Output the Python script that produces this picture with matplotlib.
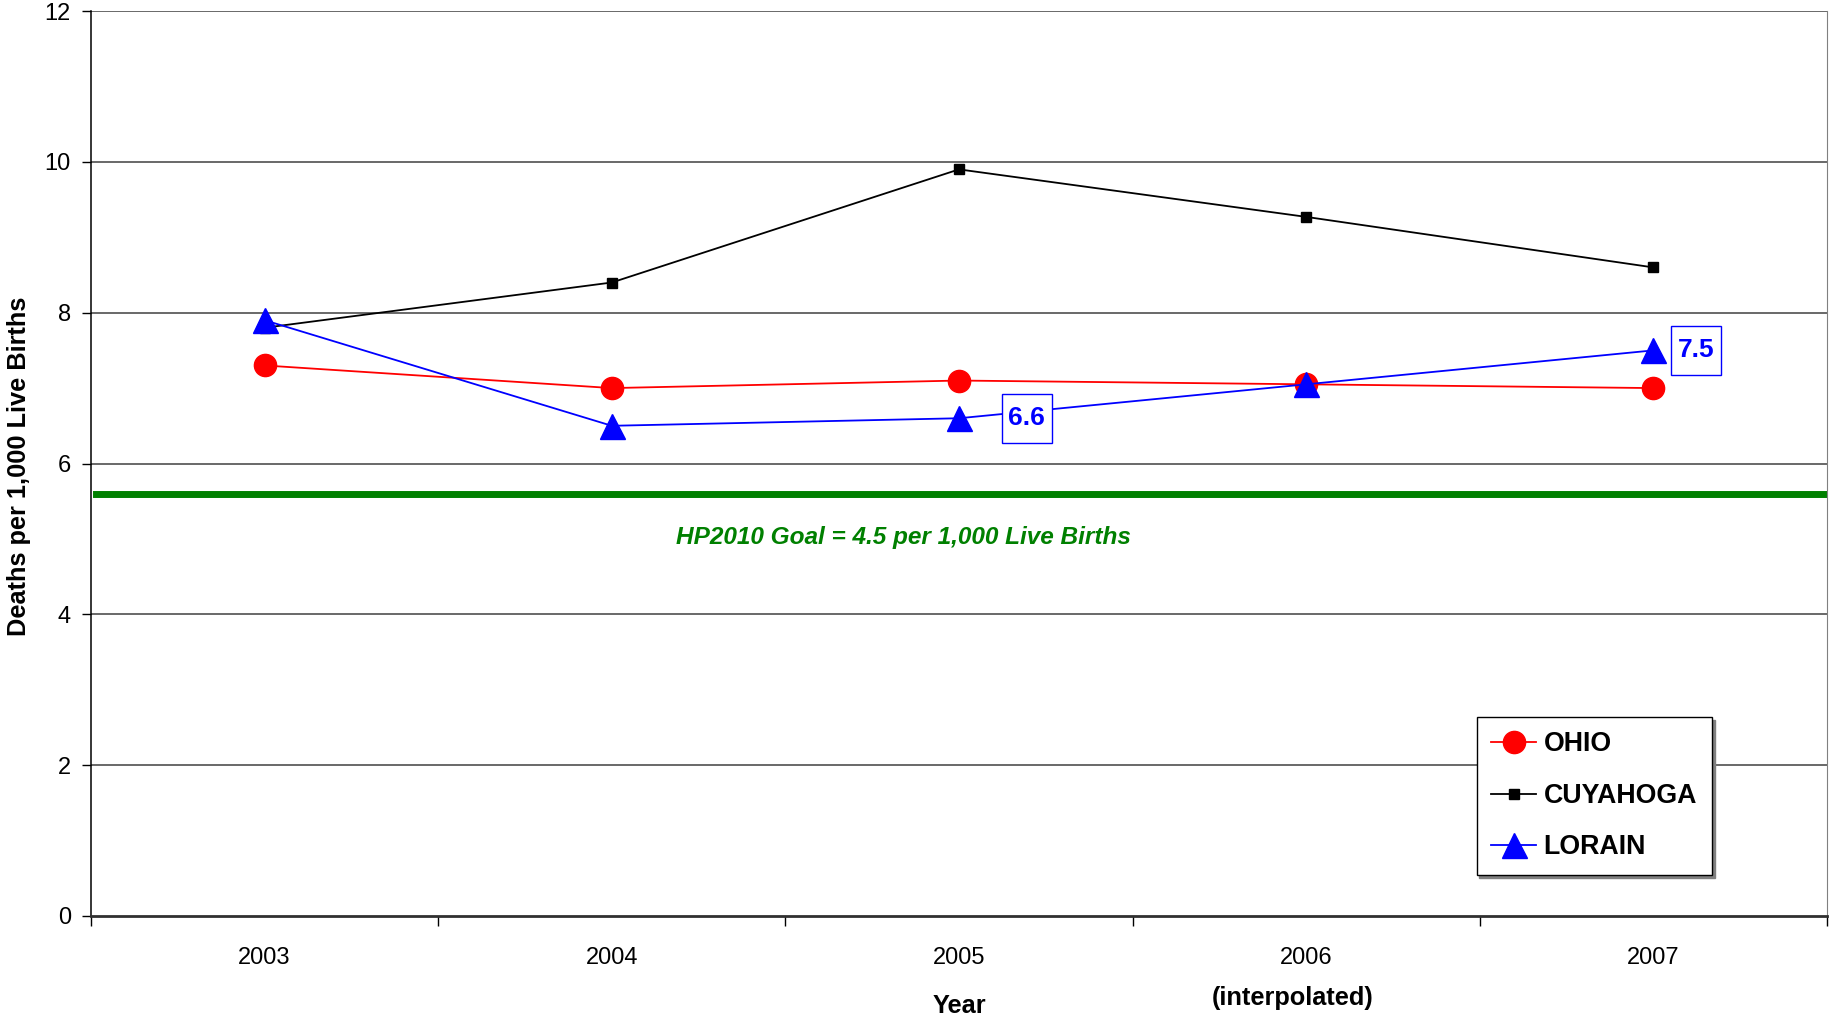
import matplotlib
matplotlib.use("Agg")
import matplotlib.pyplot as plt
from matplotlib.ticker import FixedLocator
from matplotlib.path import Path

plt.rcParams['font.family'] = ['Liberation Sans', 'DejaVu Sans']

years = ['2003', '2004', '2005', '2006', '2007']
ohio = [7.3, 7.0, 7.1, 7.05, 7.0]
cuyahoga = [7.8, 8.4, 9.9, 9.27, 8.6]
lorain = [7.9, 6.5, 6.6, 7.05, 7.5]
goal_value = 5.6
goal_text = 'HP2010 Goal = 4.5 per 1,000 Live Births'
labeled_points = [(2, 6.6, '6.6'), (4, 7.5, '7.5')]
yticks = [0, 2, 4, 6, 8, 10, 12]


def tallbox(x0, y0, width, height, mutation_size):
    px = 0.25 * mutation_size
    py = 0.48 * mutation_size
    x0 -= px
    y0 -= py
    x1 = x0 + width + 2 * px
    y1 = y0 + height + 2 * py
    return Path([(x0, y0), (x1, y0), (x1, y1), (x0, y1), (x0, y0)], closed=True)


fig = plt.figure(figsize=(18.29, 10.16), dpi=100)
ax = fig.add_axes([91/1829, 100/1016, (1827-91)/1829, (916-11)/1016])

x = list(range(len(years)))
ax.set_xlim(-0.5, len(years) - 0.5)
ax.set_ylim(0, 12)

for y in yticks[1:]:
    ax.axhline(y, color='#404040', lw=1.1, zorder=1)

ax.axhline(goal_value, xmin=0.003, xmax=1, color='#008000', lw=5, zorder=2)
ax.text(1.84, 5.02, goal_text, color='#008000', fontsize=17.6, fontweight='bold',
        fontstyle='italic', ha='center', va='center')

ax.plot(x, ohio, color='red', lw=1.3, marker='o', ms=16, mec='red', mfc='red',
        label='OHIO', zorder=4)
ax.plot(x, cuyahoga, color='black', lw=1.3, marker='s', ms=7, label='CUYAHOGA', zorder=4)
ax.plot(x, lorain, color='blue', lw=1.3, marker='^', ms=18, mec='blue', mfc='blue',
        label='LORAIN', zorder=5)

offsets = [(35.6, 0), (17.6, 0)]
for (xi, yi, txt), off in zip(labeled_points, offsets):
    ax.annotate(txt, (xi, yi), xytext=off, textcoords='offset points',
                ha='left', va='center', color='blue', fontsize=19, fontweight='bold',
                bbox=dict(boxstyle=tallbox, fc='white', ec='blue', lw=1),
                zorder=6)

ax.set_yticks(yticks)
ax.set_yticklabels([str(v) for v in yticks], fontsize=17)
ax.tick_params(axis='y', length=6.5, width=1, pad=8, direction='out')

ax.xaxis.set_major_locator(FixedLocator([i - 0.5 for i in range(len(years) + 1)]))
ax.xaxis.set_minor_locator(FixedLocator(x))
ax.set_xticklabels([], minor=False)
ax.set_xticklabels(years, minor=True, fontsize=17)
ax.tick_params(axis='x', which='major', length=7, width=1, direction='out')
ax.tick_params(axis='x', which='minor', length=0, pad=22)

ax.spines['top'].set_visible(False)
ax.spines['right'].set_color('#808080')
ax.spines['left'].set_linewidth(1.1)
ax.spines['bottom'].set_linewidth(2)
ax.spines['bottom'].set_color('#303030')

ax.set_ylabel('Deaths per 1,000 Live Births', fontsize=18.3, fontweight='bold')
ax.yaxis.set_label_coords(-0.0345, 0.497)
ax.text(2, -0.099, 'Year', transform=ax.get_xaxis_transform(), ha='center', va='center',
        fontsize=18.3, fontweight='bold')
ax.text(2.96, -0.091, '(interpolated)', transform=ax.get_xaxis_transform(), ha='center',
        va='center', fontsize=18.3, fontweight='bold')

leg = ax.legend(loc='upper left', bbox_to_anchor=(0.7905, 0.235), fontsize=19.3,
                frameon=True, fancybox=False, edgecolor='black',
                shadow={'color': '0.5', 'alpha': 1, 'ox': 2, 'oy': -2},
                handlelength=1.65, borderpad=0.55, labelspacing=0.95, handletextpad=0.3,
                prop={'weight': 'bold', 'size': 19.3})
leg.get_frame().set_linewidth(1)

fig.savefig('out.png', dpi=100)
